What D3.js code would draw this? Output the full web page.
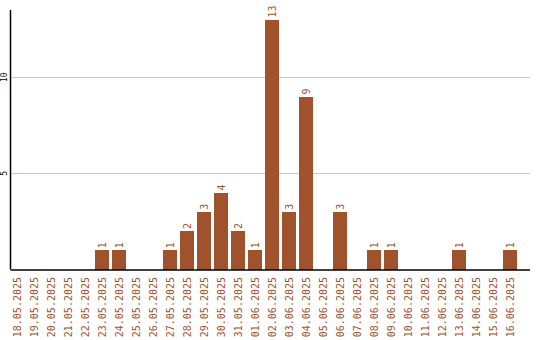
<!DOCTYPE html>
<html>
<head>
<meta charset="utf-8">
<script src="https://cdn.jsdelivr.net/npm/d3@7"></script>
<style>
  body { margin: 0; background: #fff; }
  svg { display: block; }
  text { font-family: "DejaVu Sans Mono", monospace; }
</style>
</head>
<body>
<svg width="540" height="340"></svg>
<script>
const dates = [
  '18.05.2025', '19.05.2025', '20.05.2025', '21.05.2025', '22.05.2025',
  '23.05.2025', '24.05.2025', '25.05.2025', '26.05.2025', '27.05.2025',
  '28.05.2025', '29.05.2025', '30.05.2025', '31.05.2025', '01.06.2025',
  '02.06.2025', '03.06.2025', '04.06.2025', '05.06.2025', '06.06.2025',
  '07.06.2025', '08.06.2025', '09.06.2025', '10.06.2025', '11.06.2025',
  '12.06.2025', '13.06.2025', '14.06.2025', '15.06.2025', '16.06.2025'
];
const counts = [0, 0, 0, 0, 0, 1, 1, 0, 0, 1, 2, 3, 4, 2, 1, 13, 3, 9, 0, 3, 0, 1, 1, 0, 0, 0, 1, 0, 0, 1];
const yTicks = [5, 10];

const color = '#a0522d';
const svg = d3.select('svg');
const padL = 10.5, padR = 530, padT = 10, baseY = 269.5;

// 17px per day, 14px bars
const x = d3.scaleBand().domain(dates).range([padL, padL + 17 * dates.length - 3])
  .paddingInner(3 / 17).paddingOuter(0).align(0);
const y = d3.scaleLinear().domain([0, 13.5]).range([baseY, padT]);

// gridlines
svg.append('g').selectAll('line')
  .data(yTicks).enter().append('line')
  .attr('x1', padL).attr('x2', padR)
  .attr('y1', d => Math.round(y(d)) + 0.5).attr('y2', d => Math.round(y(d)) + 0.5)
  .attr('stroke', '#c8c8c8').attr('stroke-width', 1);

// y tick labels, rotated
svg.append('g').selectAll('text')
  .data(yTicks).enter().append('text')
  .attr('transform', d => `translate(7,${y(d)}) rotate(-90)`)
  .attr('text-anchor', 'middle')
  .attr('font-size', 8)
  .attr('fill', '#000')
  .text(d => d);

// bars
const data = dates.map((d, i) => ({date: d, value: counts[i]}));
svg.append('g').selectAll('rect')
  .data(data.filter(d => d.value > 0)).enter().append('rect')
  .attr('x', d => Math.round(x(d.date) - 0.5))
  .attr('y', d => Math.round(y(d.value)))
  .attr('width', Math.round(x.bandwidth()))
  .attr('height', d => Math.round(baseY) - Math.round(y(d.value)))
  .attr('fill', color);

// value labels
svg.append('g').selectAll('text')
  .data(data.filter(d => d.value > 0)).enter().append('text')
  .attr('transform', d => `translate(${x(d.date) + x.bandwidth() / 2 + 3},${y(d.value) - 2}) rotate(-90)`)
  .attr('font-size', 10)
  .attr('fill', color)
  .text(d => d.value);

// axis lines
svg.append('line').attr('x1', padL).attr('x2', padL).attr('y1', padT).attr('y2', baseY)
  .attr('stroke', '#000').attr('stroke-width', 1.5);
svg.append('line').attr('x1', padL).attr('x2', padR).attr('y1', baseY + 0.5).attr('y2', baseY + 0.5)
  .attr('stroke', '#000').attr('stroke-width', 1.5);

// x labels
svg.append('g').selectAll('text')
  .data(dates).enter().append('text')
  .attr('transform', d => `translate(${x(d) + x.bandwidth() / 2 + 3.5},277) rotate(-90)`)
  .attr('text-anchor', 'end')
  .attr('font-size', 10)
  .attr('fill', color)
  .text(d => d);
</script>
</body>
</html>
